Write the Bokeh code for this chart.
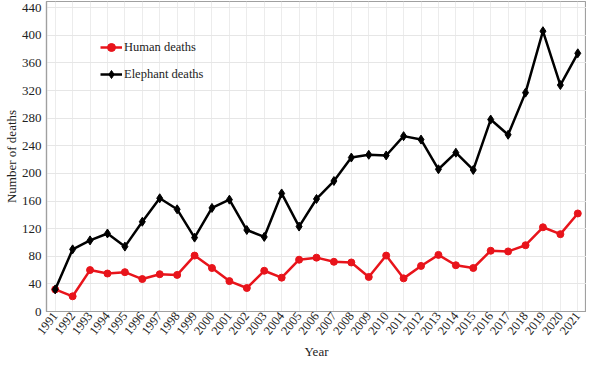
import math
from bokeh.plotting import figure
from bokeh.models import FixedTicker, Range1d, Legend, LegendItem, Title
from bokeh.embed import file_html
from bokeh.resources import INLINE

years = list(range(1991, 2022))
human_deaths = [32, 22, 60, 55, 57, 47, 54, 53, 81, 63, 44, 34, 59, 49, 75, 78, 72, 71,
                50, 81, 48, 66, 82, 67, 63, 88, 87, 96, 122, 112, 142]
elephant_deaths = [32, 90, 103, 113, 94, 130, 164, 148, 107, 150, 162, 118, 108, 171, 123,
                   163, 189, 223, 227, 226, 254, 249, 206, 230, 205, 278, 256, 317, 406,
                   328, 374]
y_ticks = list(range(0, 441, 40))

FONT = "Liberation Serif"
RED = "#e8141b"
BLACK = "#000000"

p = figure(width=586, height=358, output_backend="svg", toolbar_location=None,
           x_range=Range1d(1990.5, 2021.5), y_range=Range1d(0, 449),
           min_border_left=2, min_border_right=0, min_border_top=1, min_border_bottom=0)

p.outline_line_color = "#a0a0a0"
p.outline_line_width = 1.2

p.xgrid.ticker = FixedTicker(ticks=years)
p.ygrid.ticker = FixedTicker(ticks=y_ticks)
p.xgrid.grid_line_color = "#ececec"
p.ygrid.grid_line_color = "#e6e6e6"

p.xaxis.ticker = FixedTicker(ticks=years)
p.yaxis.ticker = FixedTicker(ticks=y_ticks)
p.xaxis.major_label_orientation = math.radians(52)
for ax in (p.xaxis, p.yaxis):
    ax.axis_line_color = "#a0a0a0"
    ax.axis_line_width = 1.2
    ax.major_tick_line_color = None
    ax.minor_tick_line_color = None
    ax.major_tick_out = 0
    ax.major_tick_in = 0
    ax.major_label_text_font = FONT
    ax.major_label_text_font_size = "13px"
    ax.major_label_text_color = "#222222"
    ax.axis_label_text_font = FONT
    ax.axis_label_text_font_size = "13px"
    ax.axis_label_text_font_style = "normal"
    ax.axis_label_text_color = "#222222"
p.xaxis.major_label_text_font_size = "12.5px"
p.yaxis.axis_label = "Number of deaths"
p.xaxis.major_label_standoff = 2
p.yaxis.major_label_standoff = 5
p.yaxis.axis_label_standoff = 0

year_title = Title(text="Year", align="center", text_font=FONT, text_font_size="13px",
                   text_font_style="normal", text_color="#222222", standoff=0, offset=0)
p.add_layout(year_title, "below")

hl = p.line(years, human_deaths, line_color=RED, line_width=2.5)
hs = p.scatter(years, human_deaths, marker="circle", size=7, fill_color=RED, line_color=RED)
el = p.line(years, elephant_deaths, line_color=BLACK, line_width=2.5)
es = p.scatter(years, elephant_deaths, marker="diamond", size=9, fill_color=BLACK, line_color=BLACK)

legend = Legend(items=[LegendItem(label="Human deaths", renderers=[hl, hs]),
                       LegendItem(label="Elephant deaths", renderers=[el, es])],
                location=(54, 227), orientation="vertical")
legend.border_line_color = None
legend.background_fill_alpha = 0
legend.padding = 0
legend.margin = 0
legend.label_text_font = FONT
legend.label_text_font_size = "12.5px"
legend.label_text_color = "#222222"
legend.glyph_width = 22
legend.label_standoff = 2
legend.spacing = 7
p.add_layout(legend)

open("out.html", "w").write(file_html(p, INLINE))
